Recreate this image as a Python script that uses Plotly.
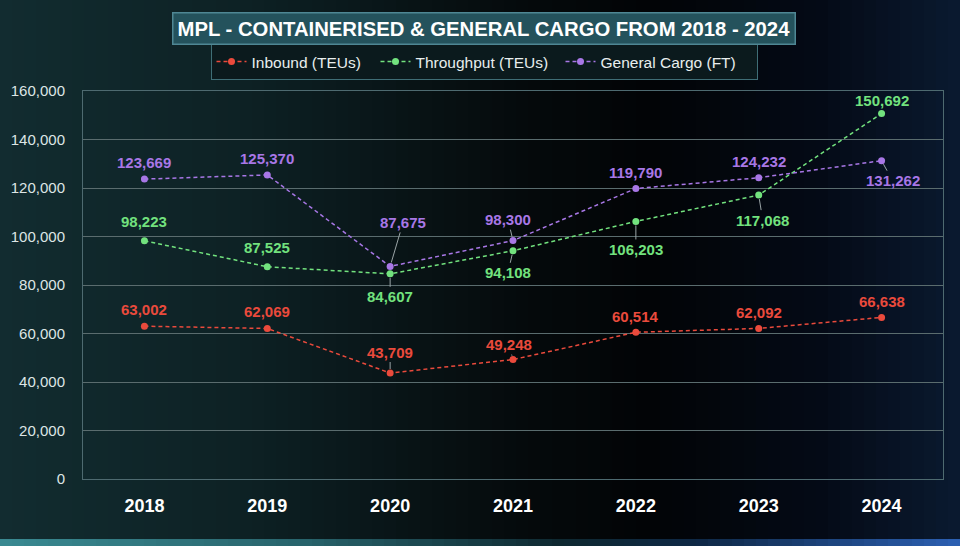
import plotly.graph_objects as go

years = ["2018", "2019", "2020", "2021", "2022", "2023", "2024"]
inbound = [63002, 62069, 43709, 49248, 60514, 62092, 66638]
throughput = [98223, 87525, 84607, 94108, 106203, 117068, 150692]
general = [123669, 125370, 87675, 98300, 119790, 124232, 131262]
series_names = ["Inbound (TEUs)", "Throughput (TEUs)", "General Cargo (FT)"]
y_ticks = [0, 20000, 40000, 60000, 80000, 100000, 120000, 140000, 160000]

RED = "#ea4a3c"
GREEN = "#72e27e"
PURPLE = "#a877e6"
LEADER = "#9aa4a6"

# label offsets (pixels) and whether a leader line is drawn
inb_off = [(0, -17), (0, -17), (0, -21), (-4, -15), (0, -16), (0, -16), (0, -16)]
inb_line = [False, False, True, True, False, False, False]
thr_off = [(0, -19), (0, -19), (0, 23), (-5, 22), (0, 28), (4, 25), (0, -13)]
thr_line = [False, False, True, True, True, True, False]
gen_off = [(0, -17), (0, -16), (13, -44), (-5, -21), (0, -16), (0, -16), (11, 20)]
gen_line = [False, False, True, True, False, False, True]
legend_widths = [119, 140, 151]

fig = go.Figure()

W, H = 960, 546
L, R, T, B = 83, 17, 91, 67
pw, ph = W - L - R, H - T - B


def px2paper_x(px):
    return (px - L) / pw


def px2paper_y(py):
    return (H - B - py) / ph


# background gradient (decoration)
stops = [(0, (18, 44, 48)), (250, (13, 33, 36)), (520, (5, 10, 12)),
         (650, (2, 4, 6)), (820, (4, 10, 22)), (960, (10, 26, 48))]
strip_stops = [(0, (58, 138, 146)), (300, (40, 100, 108)), (560, (14, 40, 48)),
               (700, (14, 40, 70)), (960, (44, 96, 180))]


def interp(stops_, x):
    for (x0, c0), (x1, c1) in zip(stops_[:-1], stops_[1:]):
        if x0 <= x <= x1:
            t = (x - x0) / (x1 - x0)
            return tuple(int(round(a + (b - a) * t)) for a, b in zip(c0, c1))
    return stops_[-1][1]


shapes = []
step = 12
for sx in range(0, W, step):
    c = interp(stops, sx + step / 2)
    shapes.append(dict(type="rect", xref="paper", yref="paper", layer="below",
                       x0=px2paper_x(sx), x1=px2paper_x(sx + step + 1),
                       y0=px2paper_y(H), y1=px2paper_y(0),
                       fillcolor="rgb(%d,%d,%d)" % c, line=dict(width=0)))
    c2 = interp(strip_stops, sx + step / 2)
    shapes.append(dict(type="rect", xref="paper", yref="paper", layer="below",
                       x0=px2paper_x(sx), x1=px2paper_x(sx + step + 1),
                       y0=px2paper_y(H), y1=px2paper_y(539),
                       fillcolor="rgb(%d,%d,%d)" % c2, line=dict(width=0)))

for name, vals, col, lw in zip(series_names, [inbound, throughput, general],
                               [RED, GREEN, PURPLE], legend_widths):
    fig.add_trace(go.Scatter(
        x=years, y=vals, name=name, mode="lines+markers",
        line=dict(color=col, width=1.5, dash="4px,3px"),
        marker=dict(color=col, size=7),
        legendwidth=lw,
    ))

annotations = []
for vals, col, offs, lines in [(inbound, RED, inb_off, inb_line),
                               (throughput, GREEN, thr_off, thr_line),
                               (general, PURPLE, gen_off, gen_line)]:
    for i, (v, (dx, dy), ln) in enumerate(zip(vals, offs, lines)):
        annotations.append(dict(
            x=i, y=v, xref="x", yref="y", text=f"<b>{v:,}</b>",
            showarrow=True, ax=dx, ay=dy, arrowhead=0, arrowwidth=1,
            arrowcolor=LEADER if ln else "rgba(0,0,0,0)", standoff=4,
            font=dict(family="Liberation Sans, Arial", size=15, color=col),
        ))

annotations.append(dict(
    x=px2paper_x(484), y=px2paper_y(28.5), xref="paper", yref="paper",
    text="<b>MPL - CONTAINERISED & GENERAL CARGO FROM 2018 - 2024</b>",
    showarrow=False, xanchor="center", yanchor="middle",
    font=dict(family="Liberation Sans, Arial", size=20.3, color="#ffffff"),
    bgcolor="#24525c", bordercolor="#4f8794", borderwidth=1.5, borderpad=4,
))

fig.update_layout(
    width=W, height=H,
    margin=dict(l=L, r=R, t=T, b=B),
    paper_bgcolor="#0c1c1f",
    plot_bgcolor="rgba(0,0,0,0)",
    shapes=shapes,
    annotations=annotations,
    showlegend=True,
    legend=dict(orientation="h", x=px2paper_x(484), y=px2paper_y(62),
                xanchor="center", yanchor="middle",
                bgcolor="#0b1a1d", bordercolor="#3f6e76", borderwidth=1,
                font=dict(family="Liberation Sans, Arial", size=15.5, color="#e8eeee"),
                itemwidth=30, tracegroupgap=0),
    xaxis=dict(type="category", range=[-0.5, len(years) - 0.5],
               showgrid=False, zeroline=False,
               showline=True, linecolor="#4e6a70", linewidth=1, mirror=True,
               tickfont=dict(family="Liberation Sans, Arial", size=18, color="#ffffff", weight="bold"),
               ticks="", ticklabelstandoff=10),
    yaxis=dict(range=[0, 160000], tickvals=y_ticks, tickformat=",",
               showgrid=True, gridcolor="#5a6c6e", gridwidth=1,
               zeroline=False, showline=True, linecolor="#4e6a70", linewidth=1, mirror=True,
               tickfont=dict(family="Liberation Sans, Arial", size=15, color="#dde5e5"),
               ticks="", ticklabelstandoff=14),
)

fig.write_html("out.html", config={"displayModeBar": False},
               post_script="document.body.style.margin='0';document.body.style.overflow='hidden';")
